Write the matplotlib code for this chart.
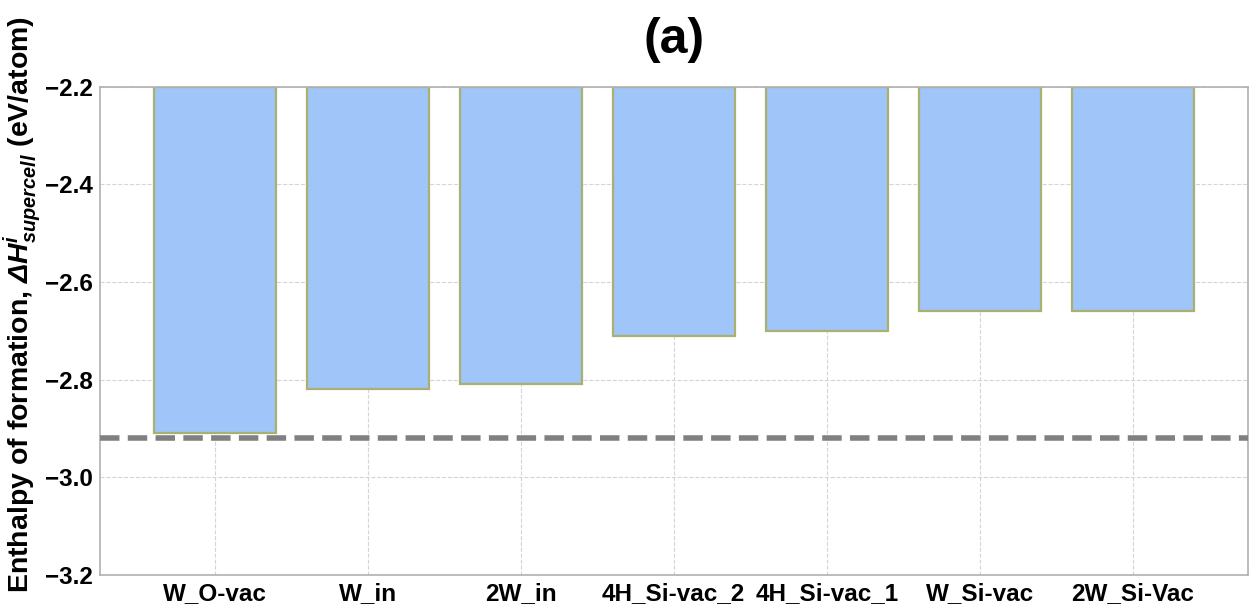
import numpy as np
import matplotlib
matplotlib.use('Agg')
import matplotlib.pyplot as plt

# Data
labels = ['W_O-vac', 'W_in', '2W_in', '4H_Si-vac_2', '4H_Si-vac_1', 'W_Si-vac', '2W_Si-Vac']
enthalpy = [-2.91, -2.82, -2.81, -2.71, -2.70, -2.66, -2.66]
ref_level = -2.92
y_top = -2.2
y_ticks = [-2.2, -2.4, -2.6, -2.8, -3.0, -3.2]

plt.rcParams['font.family'] = ['Liberation Sans', 'DejaVu Sans']
plt.rcParams['mathtext.fontset'] = 'custom'
plt.rcParams['mathtext.bfit'] = 'Liberation Sans:bold:italic'
plt.rcParams['mathtext.bf'] = 'Liberation Sans:bold'
plt.rcParams['mathtext.it'] = 'Liberation Sans:italic'
plt.rcParams['mathtext.rm'] = 'Liberation Sans'

fig, ax = plt.subplots(figsize=(12.5, 6.07), dpi=100)
fig.subplots_adjust(left=0.08, right=0.998, top=0.857, bottom=0.053)

x = np.arange(len(labels))
heights = [v - y_top for v in enthalpy]
ax.bar(x, heights, bottom=y_top, width=0.8, color='#9fc5f9',
       edgecolor='#a9b070', linewidth=1.6, zorder=2)
ax.axhline(ref_level, color='#808080', ls=(0, (3.5, 1.5)), lw=4, zorder=3)

ax.set_xlim(-0.75, len(labels) - 0.25)
ax.set_ylim(-3.2, -2.2)
ax.set_yticks(y_ticks)
ax.set_yticklabels(['\u22122.2', '\u22122.4', '\u22122.6', '\u22122.8', '\u22123.0', '\u22123.2'])
ax.set_xticks(x)
ax.set_xticklabels(labels)
for lab in ax.get_xticklabels() + ax.get_yticklabels():
    lab.set_fontweight('bold')
    lab.set_fontsize(17.5)
ax.tick_params(length=0, pad=5)

ax.grid(True, ls='--', color='#d5d5d5', lw=0.8, zorder=0)
ax.set_axisbelow(True)
for s in ax.spines.values():
    s.set_color('#b0b0b0')
    s.set_linewidth(1.2)

ax.set_ylabel(r'Enthalpy of formation, $\mathbfit{\Delta H}^{\mathbfit{i}}_{\mathbfit{supercell}}$ (eV/atom)',
              fontsize=20.5, fontweight='bold')
ax.yaxis.set_label_coords(-0.05, 0.555)
ax.set_title('(a)', fontsize=36, fontweight='bold', pad=24)

fig.savefig('out.png', dpi=100)
